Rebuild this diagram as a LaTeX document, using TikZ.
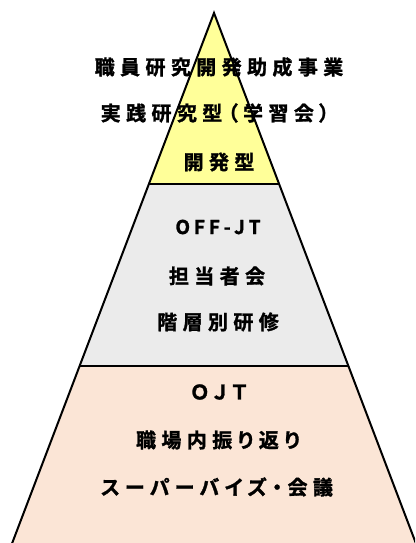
\documentclass[tikz,border=0pt]{standalone}
\usepackage{fontspec}
\newfontfamily\jpb[LetterSpace=27,RawFeature=+palt,FakeBold=1.4]{Noto Sans CJK JP Bold}
\newfontfamily\jpl[LetterSpace=20,FakeBold=1.4]{Noto Sans CJK JP Bold}
\definecolor{topyellow}{HTML}{FFFF99}
\definecolor{midgray}{HTML}{EBEBEB}
\definecolor{basepeach}{HTML}{FBE5D6}
\begin{document}
\begin{tikzpicture}[x=1pt,y=-1pt,
  lbl/.style={inner sep=0pt, font=\jpb\fontsize{20}{24}\selectfont, text=black},
  latinlbl/.style={inner sep=0pt, font=\jpl\fontsize{19}{22}\selectfont, text=black},
  edge/.style={line width=2pt, black}]
\useasboundingbox (0,0) rectangle (415,543);
\clip (0,0) rectangle (415,543);
% geometry
\coordinate (apex) at (214,13);
\coordinate (l1) at (148.9,184);
\coordinate (r1) at (279.1,184);
\coordinate (l2) at (79.6,366);
\coordinate (r2) at (348.4,366);
\coordinate (l3) at (4.6,563);
\coordinate (r3) at (423.4,563);
% fills
\fill[topyellow] (apex) -- (r1) -- (l1) -- cycle;
\fill[midgray] (l1) -- (r1) -- (r2) -- (l2) -- cycle;
\fill[basepeach] (l2) -- (r2) -- (r3) -- (l3) -- cycle;
% outline and dividers
\draw[edge, line join=miter] (l3) -- (apex) -- (r3);
\draw[edge] (l1) -- (r1);
\draw[edge] (l2) -- (r2);
% labels
\node[lbl] (t1) at (219,67) {職員研究開発助成事業};
\node[lbl] (t2) at (215,113) {実践研究型（学習会）};
\node[lbl] (t3) at (219,162) {開発型};
\node[latinlbl] (m1) at (218,227) {OFF-JT};
\node[lbl] (m2) at (217,276) {担当者会};
\node[lbl] (m3) at (218,322) {階層別研修};
\node[lbl] (b1) at (219,392) {ＯＪＴ};
\node[lbl] (b2) at (218,440) {職場内振り返り};
\node[lbl] (b3) at (217,487) {スーパーバイズ・会議};
\end{tikzpicture}
\end{document}
